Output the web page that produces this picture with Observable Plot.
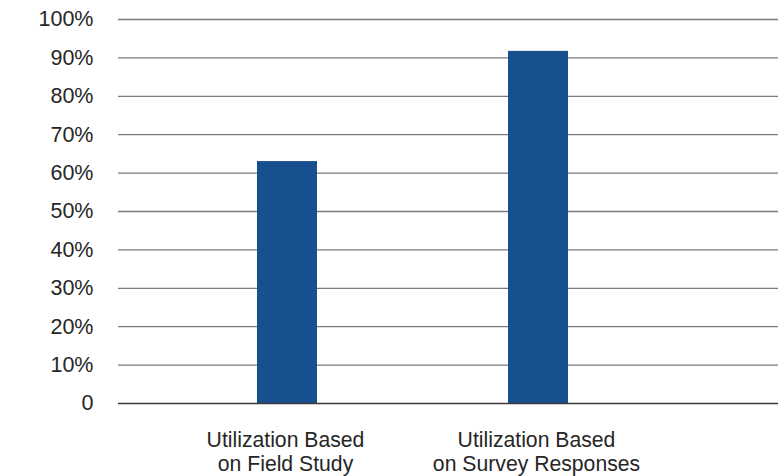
<!DOCTYPE html>
<html>
<head>
<meta charset="utf-8">
<script src="https://cdn.jsdelivr.net/npm/d3@7"></script>
<script src="https://cdn.jsdelivr.net/npm/@observablehq/plot@0.6"></script>
<style>
  html, body { margin: 0; padding: 0; background: #fff; }
  #chart { width: 784px; height: 476px; }
</style>
</head>
<body>
<div id="chart"></div>
<script>
const categories = ["Utilization Based\non Field Study", "Utilization Based\non Survey Responses"];
const values = [63.0, 91.7];
const yTicks = [0, 10, 20, 30, 40, 50, 60, 70, 80, 90, 100];

const data = categories.map((c, i) => ({category: c, value: values[i]}));

const chart = Plot.plot({
  width: 784,
  height: 476,
  marginLeft: 118,
  marginRight: 6,
  marginTop: 19,
  marginBottom: 73,
  style: {fontFamily: "'Liberation Sans', Arial, sans-serif", fontSize: "21px", color: "#262626", background: "#fff"},
  x: {domain: categories, range: [64, 760], padding: 0.762, label: null},
  y: {domain: [0, 100], label: null},
  marks: [
    Plot.ruleY(yTicks.filter(d => d > 0), {stroke: "#7a7a7a", strokeWidth: 1.3, strokeOpacity: 1}),
    Plot.barY(data, {x: "category", y: "value", fill: "#184f8e"}),
    Plot.ruleY([0], {stroke: "#3a3a3a", strokeWidth: 1.3}),
    Plot.axisY({ticks: yTicks, tickSize: 0, tickPadding: 25, tickFormat: d => d === 0 ? "0" : d + "%", label: null, fontSize: 21.5}),
    Plot.axisX({tickSize: 0, tickPadding: 26, dx: -2, label: null, fontSize: 21.2, lineHeight: 1.15})
  ]
});
document.getElementById("chart").appendChild(chart);
</script>
</body>
</html>
